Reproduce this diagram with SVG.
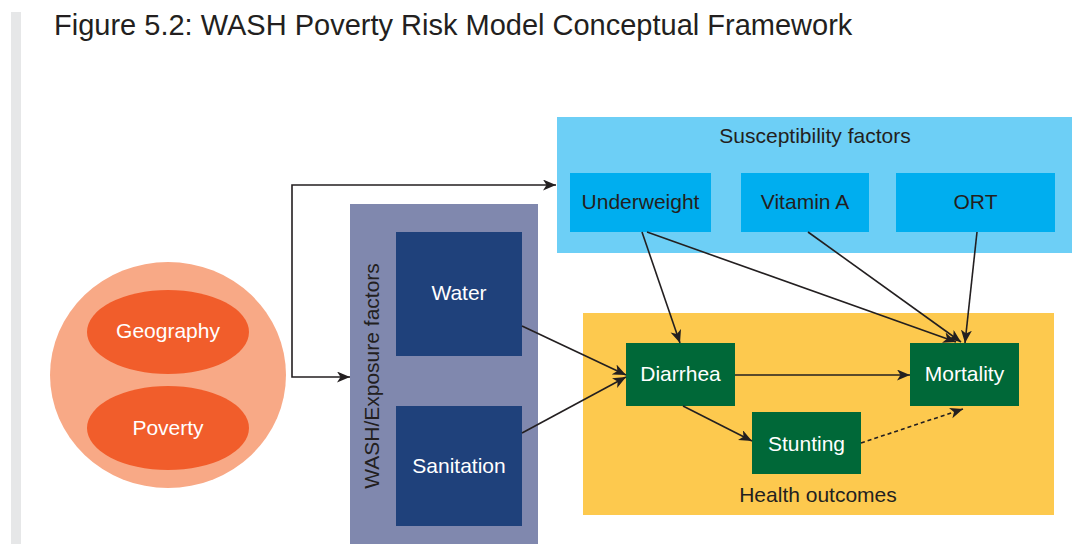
<svg xmlns="http://www.w3.org/2000/svg" width="1080" height="544" viewBox="0 0 1080 544">
  <style>
    text { font-family: "Liberation Sans", Arial, sans-serif; }
    .title { font-size: 29px; fill: #231f20; }
    .lbl { font-size: 21px; text-anchor: middle; }
    .light { fill: #ffffff; }
    .dark { fill: #231f20; }
    .edge { fill: none; stroke: #231f20; stroke-width: 1.6; marker-end: url(#arrow); }
    .both { marker-start: url(#arrow); }
    .dotted { stroke-dasharray: 4 3; }
  </style>
  <defs>
    <marker id="arrow" markerUnits="userSpaceOnUse" markerWidth="14" markerHeight="12" refX="13" refY="5.5" orient="auto-start-reverse">
      <path d="M0,0 L13,5.5 L0,11 L3.5,5.5 Z" fill="#231f20"/>
    </marker>
  </defs>

  <rect x="11" y="12" width="10" height="532" fill="#e6e7e8"/>
  <text class="title" x="54" y="35">Figure 5.2: WASH Poverty Risk Model Conceptual Framework</text>

  <!-- Context: geography and poverty -->
  <g id="context">
    <ellipse cx="168" cy="375" rx="118" ry="113" fill="#f8a986"/>
  </g>
  <g id="geography">
    <ellipse cx="168" cy="332" rx="81" ry="42" fill="#f15d2b"/>
    <text class="lbl light" x="168" y="338">Geography</text>
  </g>
  <g id="poverty">
    <ellipse cx="168" cy="428" rx="81" ry="42" fill="#f15d2b"/>
    <text class="lbl light" x="168" y="435">Poverty</text>
  </g>

  <!-- WASH / exposure factors -->
  <g id="wash">
    <rect x="350" y="204" width="188" height="340" fill="#8088ae"/>
    <text class="lbl dark" transform="translate(379,376) rotate(-90)">WASH/Exposure factors</text>
  </g>
  <g id="water">
    <rect x="396" y="232" width="126" height="124" fill="#1f417b"/>
    <text class="lbl light" x="459" y="300">Water</text>
  </g>
  <g id="sanitation">
    <rect x="396" y="406" width="126" height="120" fill="#1f417b"/>
    <text class="lbl light" x="459" y="473">Sanitation</text>
  </g>

  <!-- Susceptibility factors -->
  <g id="susceptibility">
    <rect x="557" y="117" width="515" height="136" fill="#6dcff6"/>
    <text class="lbl dark" x="815" y="143">Susceptibility factors</text>
  </g>
  <g id="underweight">
    <rect x="570" y="173" width="141" height="59" fill="#00aeef"/>
    <text class="lbl dark" x="640.5" y="209">Underweight</text>
  </g>
  <g id="vitamin-a">
    <rect x="741" y="173" width="128" height="59" fill="#00aeef"/>
    <text class="lbl dark" x="805" y="209">Vitamin A</text>
  </g>
  <g id="ort">
    <rect x="896" y="173" width="159" height="59" fill="#00aeef"/>
    <text class="lbl dark" x="975.5" y="209">ORT</text>
  </g>

  <!-- Health outcomes -->
  <g id="health">
    <rect x="583" y="313" width="471" height="202" fill="#fdc94e"/>
    <text class="lbl dark" x="818" y="502">Health outcomes</text>
  </g>
  <g id="diarrhea">
    <rect x="626" y="343" width="109" height="63" fill="#006838"/>
    <text class="lbl light" x="680.5" y="381">Diarrhea</text>
  </g>
  <g id="mortality">
    <rect x="910" y="343" width="109" height="63" fill="#006838"/>
    <text class="lbl light" x="964.5" y="381">Mortality</text>
  </g>
  <g id="stunting">
    <rect x="752" y="412" width="109" height="62" fill="#006838"/>
    <text class="lbl light" x="806.5" y="451">Stunting</text>
  </g>

  <!-- Connectors -->
  <g id="connectors">
    <path class="edge both" d="M350,377 H292 V185 H556"/>
    <path class="edge" d="M522,326 L626,375"/>
    <path class="edge" d="M522,433 L626,377"/>
    <path class="edge" d="M642,232 L680,343"/>
    <path class="edge" d="M647,232 L956,342"/>
    <path class="edge" d="M808,232 L961,342"/>
    <path class="edge" d="M977,232 L965,343"/>
    <path class="edge" d="M735,375 L910,375"/>
    <path class="edge" d="M683,406 L752,441"/>
    <path class="edge dotted" d="M861,443 L963,409"/>
  </g>
</svg>
